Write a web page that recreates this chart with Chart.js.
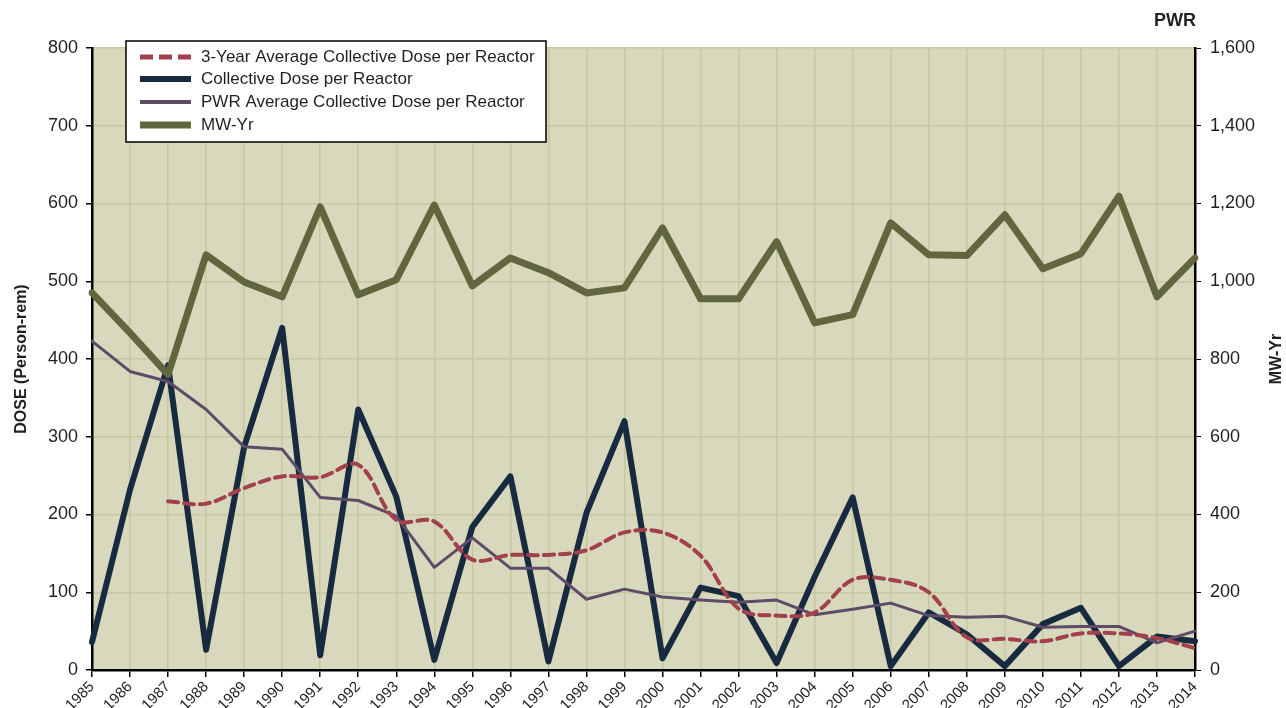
<!DOCTYPE html>
<html>
<head>
<meta charset="utf-8">
<script src="https://cdn.jsdelivr.net/npm/chart.js@4.4.1/dist/chart.umd.min.js"></script>
<style>
html,body{margin:0;padding:0;background:#ffffff;}
#wrap{width:1286px;height:708px;position:relative;}
</style>
</head>
<body>
<div id="wrap"><canvas id="c" width="1286" height="708"></canvas></div>
<script>
const years = ['1985','1986','1987','1988','1989','1990','1991','1992','1993','1994','1995','1996','1997','1998','1999','2000','2001','2002','2003','2004','2005','2006','2007','2008','2009','2010','2011','2012','2013','2014'];
const avg3Year = [null,null,217,214,234,249,248,264,193,191,142,148,148,154,177,177,147,79,70,74,116,116,100,42,40,37,47,47,41,28];
const collectiveDose = [36,232,392,26,287,440,19,335,223,13,184,249,11,202,320,15,106,95,9,120,222,5,74,46,5,59,80,5,43,37];
const pwrAverage = [423,384,371,335,287,284,222,218,198,132,170,131,131,91,104,94,90,87,90,71,78,86,70,68,69,55,56,56,35,50];
const mwYr = [970,867,760,1068,998,960,1191,965,1004,1196,988,1060,1022,970,983,1137,955,955,1102,893,914,1150,1068,1066,1171,1032,1071,1219,960,1060];
const seriesNames = ['3-Year Average Collective Dose per Reactor','Collective Dose per Reactor','PWR Average Collective Dose per Reactor','MW-Yr'];
const doseAxisTitle = 'DOSE (Person-rem)';
const mwAxisTitle = 'MW-Yr';
const cornerTitle = 'PWR';

const FONT = "Arial, 'Liberation Sans', sans-serif";
const COLORS = {red:'#A2404C', navy:'#172A40', purple:'#5E4B68', olive:'#62663F'};

const bgPlugin = {
  id:'plotBg',
  beforeDraw(chart){
    const {ctx, chartArea:a} = chart;
    ctx.save();
    ctx.fillStyle = '#D8D9BC';
    ctx.fillRect(a.left, a.top, a.right-a.left, a.bottom-a.top);
    ctx.restore();
  }
};

const textPlugin = {
  id:'extraText',
  afterDraw(chart){
    const {ctx, chartArea:a} = chart;
    ctx.save();
    ctx.fillStyle = '#231F20';
    ctx.font = 'bold 18px ' + FONT;
    ctx.textAlign = 'right';
    ctx.textBaseline = 'middle';
    ctx.fillText(cornerTitle, 1196, 21);
    ctx.translate(1277, (a.top+a.bottom)/2);
    ctx.rotate(-Math.PI/2);
    ctx.textAlign = 'center';
    ctx.font = 'bold 16px ' + FONT;
    ctx.fillText(mwAxisTitle, 0, 0);
    ctx.restore();
  }
};

const legendPlugin = {
  id:'boxLegend',
  afterDraw(chart){
    const ctx = chart.ctx;
    const x0 = 126, y0 = 41, w = 420, h = 101;
    ctx.save();
    ctx.fillStyle = '#ffffff';
    ctx.fillRect(x0, y0, w, h);
    ctx.strokeStyle = '#000000';
    ctx.lineWidth = 1.5;
    ctx.strokeRect(x0, y0, w, h);
    const rowY = [57, 79, 102, 125];
    chart.data.datasets.forEach((ds, i) => {
      const y = rowY[i];
      ctx.beginPath();
      ctx.strokeStyle = ds.borderColor;
      ctx.lineWidth = ds.legendWidth;
      ctx.setLineDash(ds.legendDash || []);
      ctx.lineCap = 'butt';
      ctx.moveTo(140, y);
      ctx.lineTo(191, y);
      ctx.stroke();
      ctx.setLineDash([]);
      ctx.fillStyle = '#231F20';
      ctx.font = '17px ' + FONT;
      ctx.textAlign = 'left';
      ctx.textBaseline = 'middle';
      ctx.fillText(ds.label, 201, y);
    });
    ctx.restore();
  }
};

new Chart(document.getElementById('c'), {
  type:'line',
  data:{
    labels: years,
    datasets:[
      {label:seriesNames[0], data:avg3Year, yAxisID:'y', borderColor:COLORS.red, borderWidth:4, borderDash:[10,6], tension:0.35, pointRadius:0, order:1, legendWidth:5, legendDash:[13,6], spanGaps:false},
      {label:seriesNames[1], data:collectiveDose, yAxisID:'y', borderColor:COLORS.navy, borderWidth:6, tension:0, pointRadius:0, order:3, legendWidth:6},
      {label:seriesNames[2], data:pwrAverage, yAxisID:'y', borderColor:COLORS.purple, borderWidth:3, tension:0, pointRadius:0, order:2, legendWidth:4},
      {label:seriesNames[3], data:mwYr, yAxisID:'y1', borderColor:COLORS.olive, borderWidth:7, tension:0, pointRadius:0, order:0, legendWidth:7}
    ]
  },
  options:{
    responsive:false,
    animation:false,
    events:[],
    layout:{padding:{top:48, left:0, right:0, bottom:0}},
    plugins:{legend:{display:false}, tooltip:{enabled:false}, title:{display:false}},
    elements:{line:{borderJoinStyle:'round', borderCapStyle:'round'}},
    scales:{
      x:{
        offset:false,
        grid:{color:'#C6C9A0', lineWidth:1.5, tickColor:'#000', tickLength:7, drawOnChartArea:true},
        border:{color:'#000', width:2.5},
        ticks:{autoSkip:false, maxRotation:45, minRotation:45, color:'#231F20', font:{family:FONT, size:15}, padding:1},
        afterFit(s){ s.height = 38; }
      },
      y:{
        position:'left', min:0, max:800,
        ticks:{stepSize:100, color:'#231F20', font:{family:FONT, size:18}, padding:8},
        grid:{color:'#C6C9A0', lineWidth:1.5, tickColor:'#000', tickLength:6},
        border:{color:'#000', width:2.5},
        title:{display:true, text:doseAxisTitle, color:'#231F20', font:{family:FONT, size:16, weight:'bold'}, padding:{top:12, bottom:0}},
        afterFit(s){ s.width = 92; }
      },
      y1:{
        position:'right', min:0, max:1600,
        ticks:{stepSize:200, color:'#231F20', font:{family:FONT, size:18}, padding:9,
               callback:(v)=>Number(v).toLocaleString('en-US')},
        grid:{drawOnChartArea:false, tickColor:'#000', tickLength:6},
        border:{color:'#000', width:2.5},
        afterFit(s){ s.width = 91; }
      }
    }
  },
  plugins:[bgPlugin, textPlugin, legendPlugin]
});
</script>
</body>
</html>
